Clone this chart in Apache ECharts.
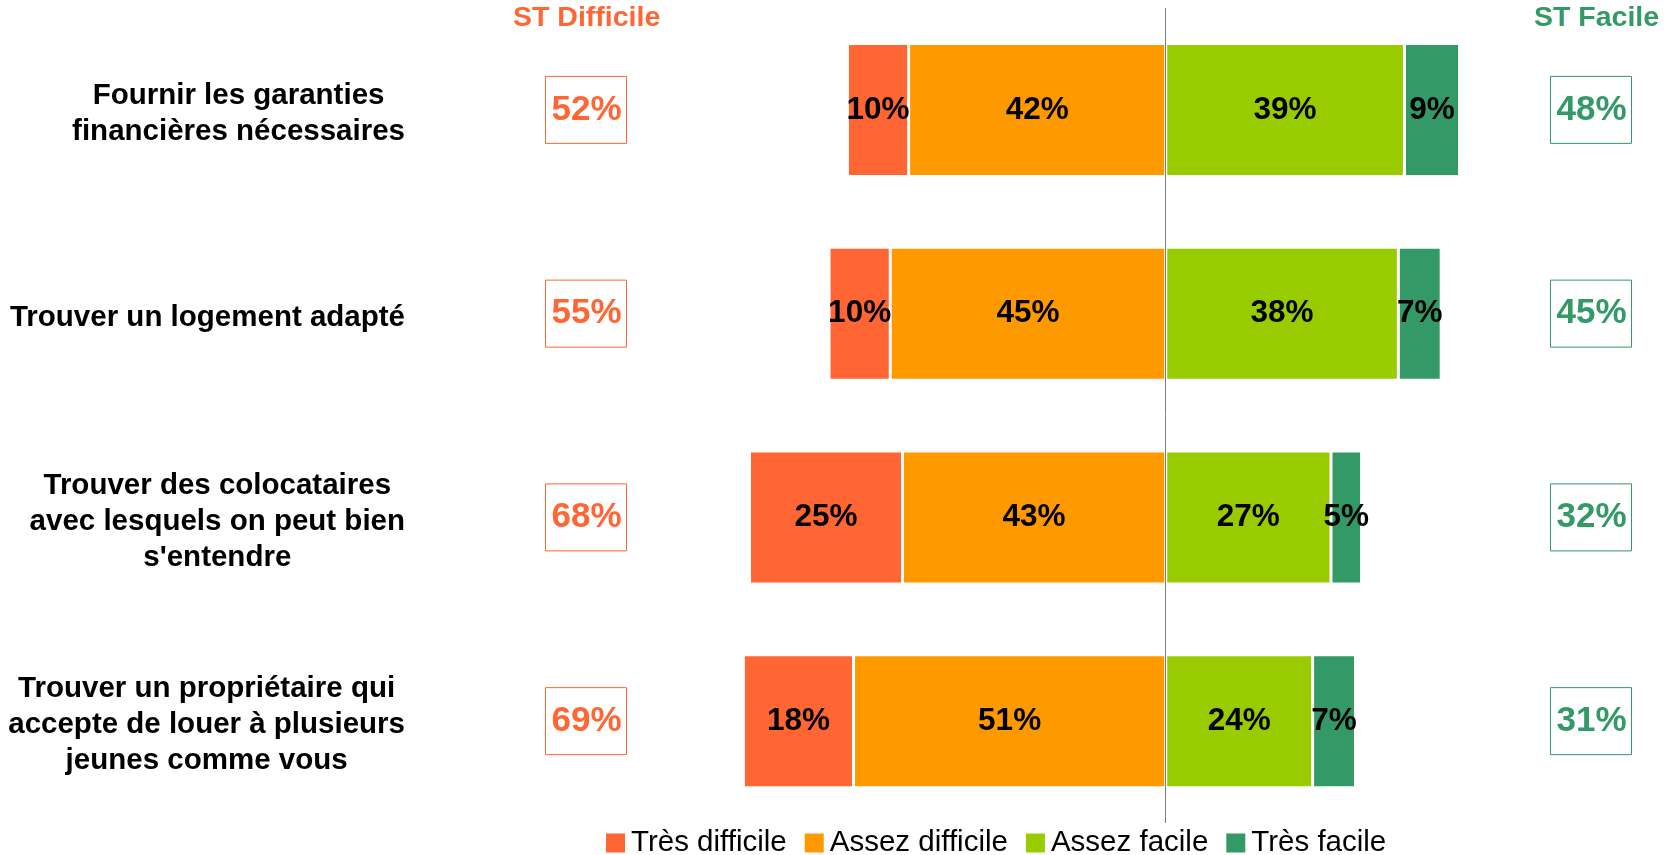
<!DOCTYPE html>
<html>
<head>
<meta charset="utf-8">
<script src="https://cdn.jsdelivr.net/npm/echarts@6/dist/echarts.min.js"></script>
<style>
  html, body { margin: 0; padding: 0; background: #fff; }
  #wrap { width: 1670px; height: 855px; }
</style>
</head>
<body>
<div id="wrap"></div>
<script>
var categories = [
  'Fournir les garanties\nfinancières nécessaires',
  'Trouver un logement adapté',
  "Trouver des colocataires\navec lesquels on peut bien\ns'entendre",
  'Trouver un propriétaire qui\naccepte de louer à plusieurs\njeunes comme vous'
];
var tresDifficile = [10, 10, 25, 18];
var assezDifficile = [42, 45, 43, 51];
var assezFacile = [39, 38, 27, 24];
var tresFacile = [9, 7, 5, 7];
var stDifficile = [52, 55, 68, 69];
var stFacile = [48, 45, 32, 31];

var FONT = "'Liberation Sans', Arial, sans-serif";
var RED = '#FF6633', ORANGE = '#FF9900', LIME = '#99CC00', GREEN = '#339966';

function pct(v) { return v + '%'; }

var barLabel = {
  show: true,
  position: 'inside',
  color: '#000',
  fontFamily: FONT,
  fontWeight: 'bold',
  fontSize: 31.5,
  formatter: function (p) { return Math.abs(p.value) + '%'; }
};

function barSeries(name, values, color, sign) {
  return {
    name: name,
    type: 'bar',
    stack: 'total',
    barWidth: 133,
    data: values.map(function (v) { return sign * v; }),
    itemStyle: { color: color, borderColor: '#fff', borderWidth: 1.5 },
    label: barLabel
  };
}

var hiddenLine = { show: false, onZero: false };

var option = {
  backgroundColor: '#fff',
  animation: false,
  title: [
    {
      text: 'ST Difficile', left: 513, top: 4, padding: 0,
      textStyle: { color: RED, fontFamily: FONT, fontWeight: 'bold', fontSize: 28.5 }
    },
    {
      text: 'ST Facile', left: 1534, top: 4, padding: 0,
      textStyle: { color: GREEN, fontFamily: FONT, fontWeight: 'bold', fontSize: 28.5 }
    }
  ],
  legend: {
    data: ['Très difficile', 'Assez difficile', 'Assez facile', 'Très facile'],
    left: 604,
    top: 828,
    padding: 0,
    icon: 'rect',
    itemWidth: 21,
    itemHeight: 21,
    itemGap: 16,
    textStyle: { fontFamily: FONT, fontSize: 29.5, color: '#000' }
  },
  grid: { left: 676, right: 137, top: 8, bottom: 32 },
  xAxis: { type: 'value', min: -80, max: 60, show: false },
  yAxis: [
    {
      type: 'category',
      inverse: true,
      position: 'left',
      data: categories,
      axisLine: hiddenLine,
      axisTick: { show: false },
      axisLabel: {
        interval: 0,
        margin: 271,
        align: 'right',
        padding: [8, 0, 0, 0],
        formatter: function (v) {
          return v.split('\n').map(function (l) { return '{c|' + l + '}'; }).join('\n');
        },
        rich: {
          c: { align: 'center', fontFamily: FONT, fontWeight: 'bold', fontSize: 29.5, lineHeight: 36, color: '#000' }
        }
      }
    },
    {
      type: 'category',
      inverse: true,
      position: 'left',
      data: stDifficile.map(pct),
      axisLine: hiddenLine,
      axisTick: { show: false },
      axisLabel: {
        interval: 0,
        margin: 90,
        align: 'center',
        color: RED,
        fontFamily: FONT,
        fontWeight: 'bold',
        fontSize: 35,
        borderColor: RED,
        borderWidth: 1,
        padding: [17, 5, 15, 6]
      }
    },
    {
      type: 'category',
      inverse: true,
      position: 'right',
      data: stFacile.map(pct),
      axisLine: hiddenLine,
      axisTick: { show: false },
      axisLabel: {
        interval: 0,
        margin: 58,
        align: 'center',
        color: GREEN,
        fontFamily: FONT,
        fontWeight: 'bold',
        fontSize: 35,
        borderColor: GREEN,
        borderWidth: 1,
        padding: [17, 5, 15, 6]
      }
    }
  ],
  series: [
    Object.assign(barSeries('Assez difficile', assezDifficile, ORANGE, -1), {
      markLine: {
        silent: true,
        symbol: ['none', 'none'],
        label: { show: false },
        lineStyle: { color: '#7f7f7f', width: 1, type: 'solid' },
        data: [{ xAxis: 0 }]
      }
    }),
    barSeries('Très difficile', tresDifficile, RED, -1),
    barSeries('Assez facile', assezFacile, LIME, 1),
    barSeries('Très facile', tresFacile, GREEN, 1)
  ]
};

var myChart = echarts.init(document.getElementById('wrap'));
myChart.setOption(option);
</script>
</body>
</html>
